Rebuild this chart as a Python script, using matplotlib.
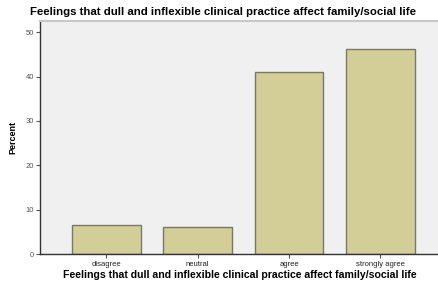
import matplotlib.pyplot as plt

categories = ["disagree", "neutral", "agree", "strongly agree"]
percent = [6.7, 6.1, 41.0, 46.2]
yticks = [0, 10, 20, 30, 40, 50]

title = "Feelings that dull and inflexible clinical practice affect family/social life"

plt.rcParams["font.family"] = ["Liberation Sans", "DejaVu Sans"]

fig = plt.figure(figsize=(4.39, 2.82), dpi=100)
ax = fig.add_axes((40 / 439, 27.7 / 282, 1 - 40 / 439, 233.3 / 282))
ax.set_facecolor("#F0F0F0")

x = list(range(len(categories)))
ax.bar(x, percent, width=0.75, color="#D3CE97", edgecolor="#77776A", linewidth=1.0, zorder=2)

ax.set_xlim(-0.725, 3.64)
ax.set_ylim(0, 52.5)
ax.set_xticks(x)
ax.set_xticklabels(categories, fontsize=5.5, color="#222222")
ax.set_yticks(yticks)
ax.set_yticklabels([str(v) for v in yticks], fontsize=5.5, color="#555555")
ax.tick_params(axis="both", length=3, width=0.8, color="#555555", pad=1.5)

ax.spines["right"].set_visible(False)
ax.spines["top"].set_color("#C8C8C8")
ax.spines["top"].set_linewidth(1.5)
for side in ("left", "bottom"):
    ax.spines[side].set_color("#333333")
    ax.spines[side].set_linewidth(1.0)

ax.set_ylabel("Percent", fontsize=6.5, fontweight="bold", labelpad=6)
ax.set_xlabel(title, fontsize=7.6, fontweight="bold", labelpad=1.5)
fig.text(223 / 439, 1 - 12 / 282, title, fontsize=8.2, fontweight="bold",
         ha="center", va="center")

fig.savefig("out.png", dpi=100)
